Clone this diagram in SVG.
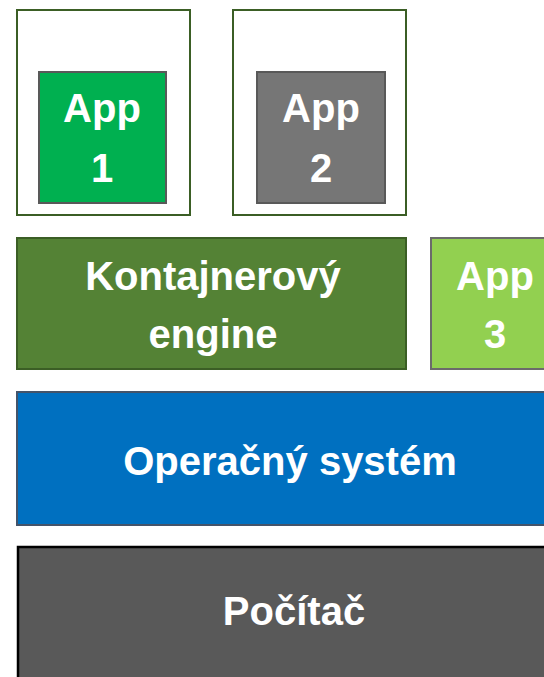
<svg xmlns="http://www.w3.org/2000/svg" width="544" height="677" viewBox="0 0 544 677">
<style>
.t{font-family:"Liberation Sans",Arial,sans-serif;font-weight:bold;font-size:40px;fill:#fff;text-anchor:middle}
.outer{fill:#fff;stroke:#3b5e25;stroke-width:2}
</style>
<rect width="544" height="677" fill="#fff"/>
<g id="container1"><rect class="outer" x="17" y="10" width="173" height="205"/></g>
<g id="container2"><rect class="outer" x="233" y="10" width="173" height="205"/></g>
<g id="app1"><rect x="39" y="72" width="127" height="131" fill="#00b050" stroke="#595959" stroke-width="2"/>
<text class="t" x="102" y="122">App</text><text class="t" x="102" y="182">1</text></g>
<g id="app2"><rect x="257" y="72" width="128" height="131" fill="#767676" stroke="#595959" stroke-width="2"/>
<text class="t" x="321" y="122">App</text><text class="t" x="321" y="182">2</text></g>
<g id="engine"><rect x="17" y="238" width="389" height="131" fill="#548235" stroke="#3b5e25" stroke-width="2"/>
<text class="t" x="213" y="290">Kontajnerový</text><text class="t" x="213" y="348">engine</text></g>
<g id="app3"><rect x="431" y="238" width="127" height="131" fill="#92d050" stroke="#6b6b6b" stroke-width="2"/>
<text class="t" x="495" y="290">App</text><text class="t" x="495" y="348">3</text></g>
<g id="os"><rect x="17" y="392" width="546" height="133" fill="#0070c0" stroke="#44546a" stroke-width="2"/>
<text class="t" x="290" y="475">Operačný systém</text></g>
<g id="pc"><rect x="18" y="547" width="546" height="140" fill="#595959" stroke="#000" stroke-width="2.5"/>
<text class="t" x="294" y="625">Počítač</text></g>
<g id="connectors"></g>
</svg>
